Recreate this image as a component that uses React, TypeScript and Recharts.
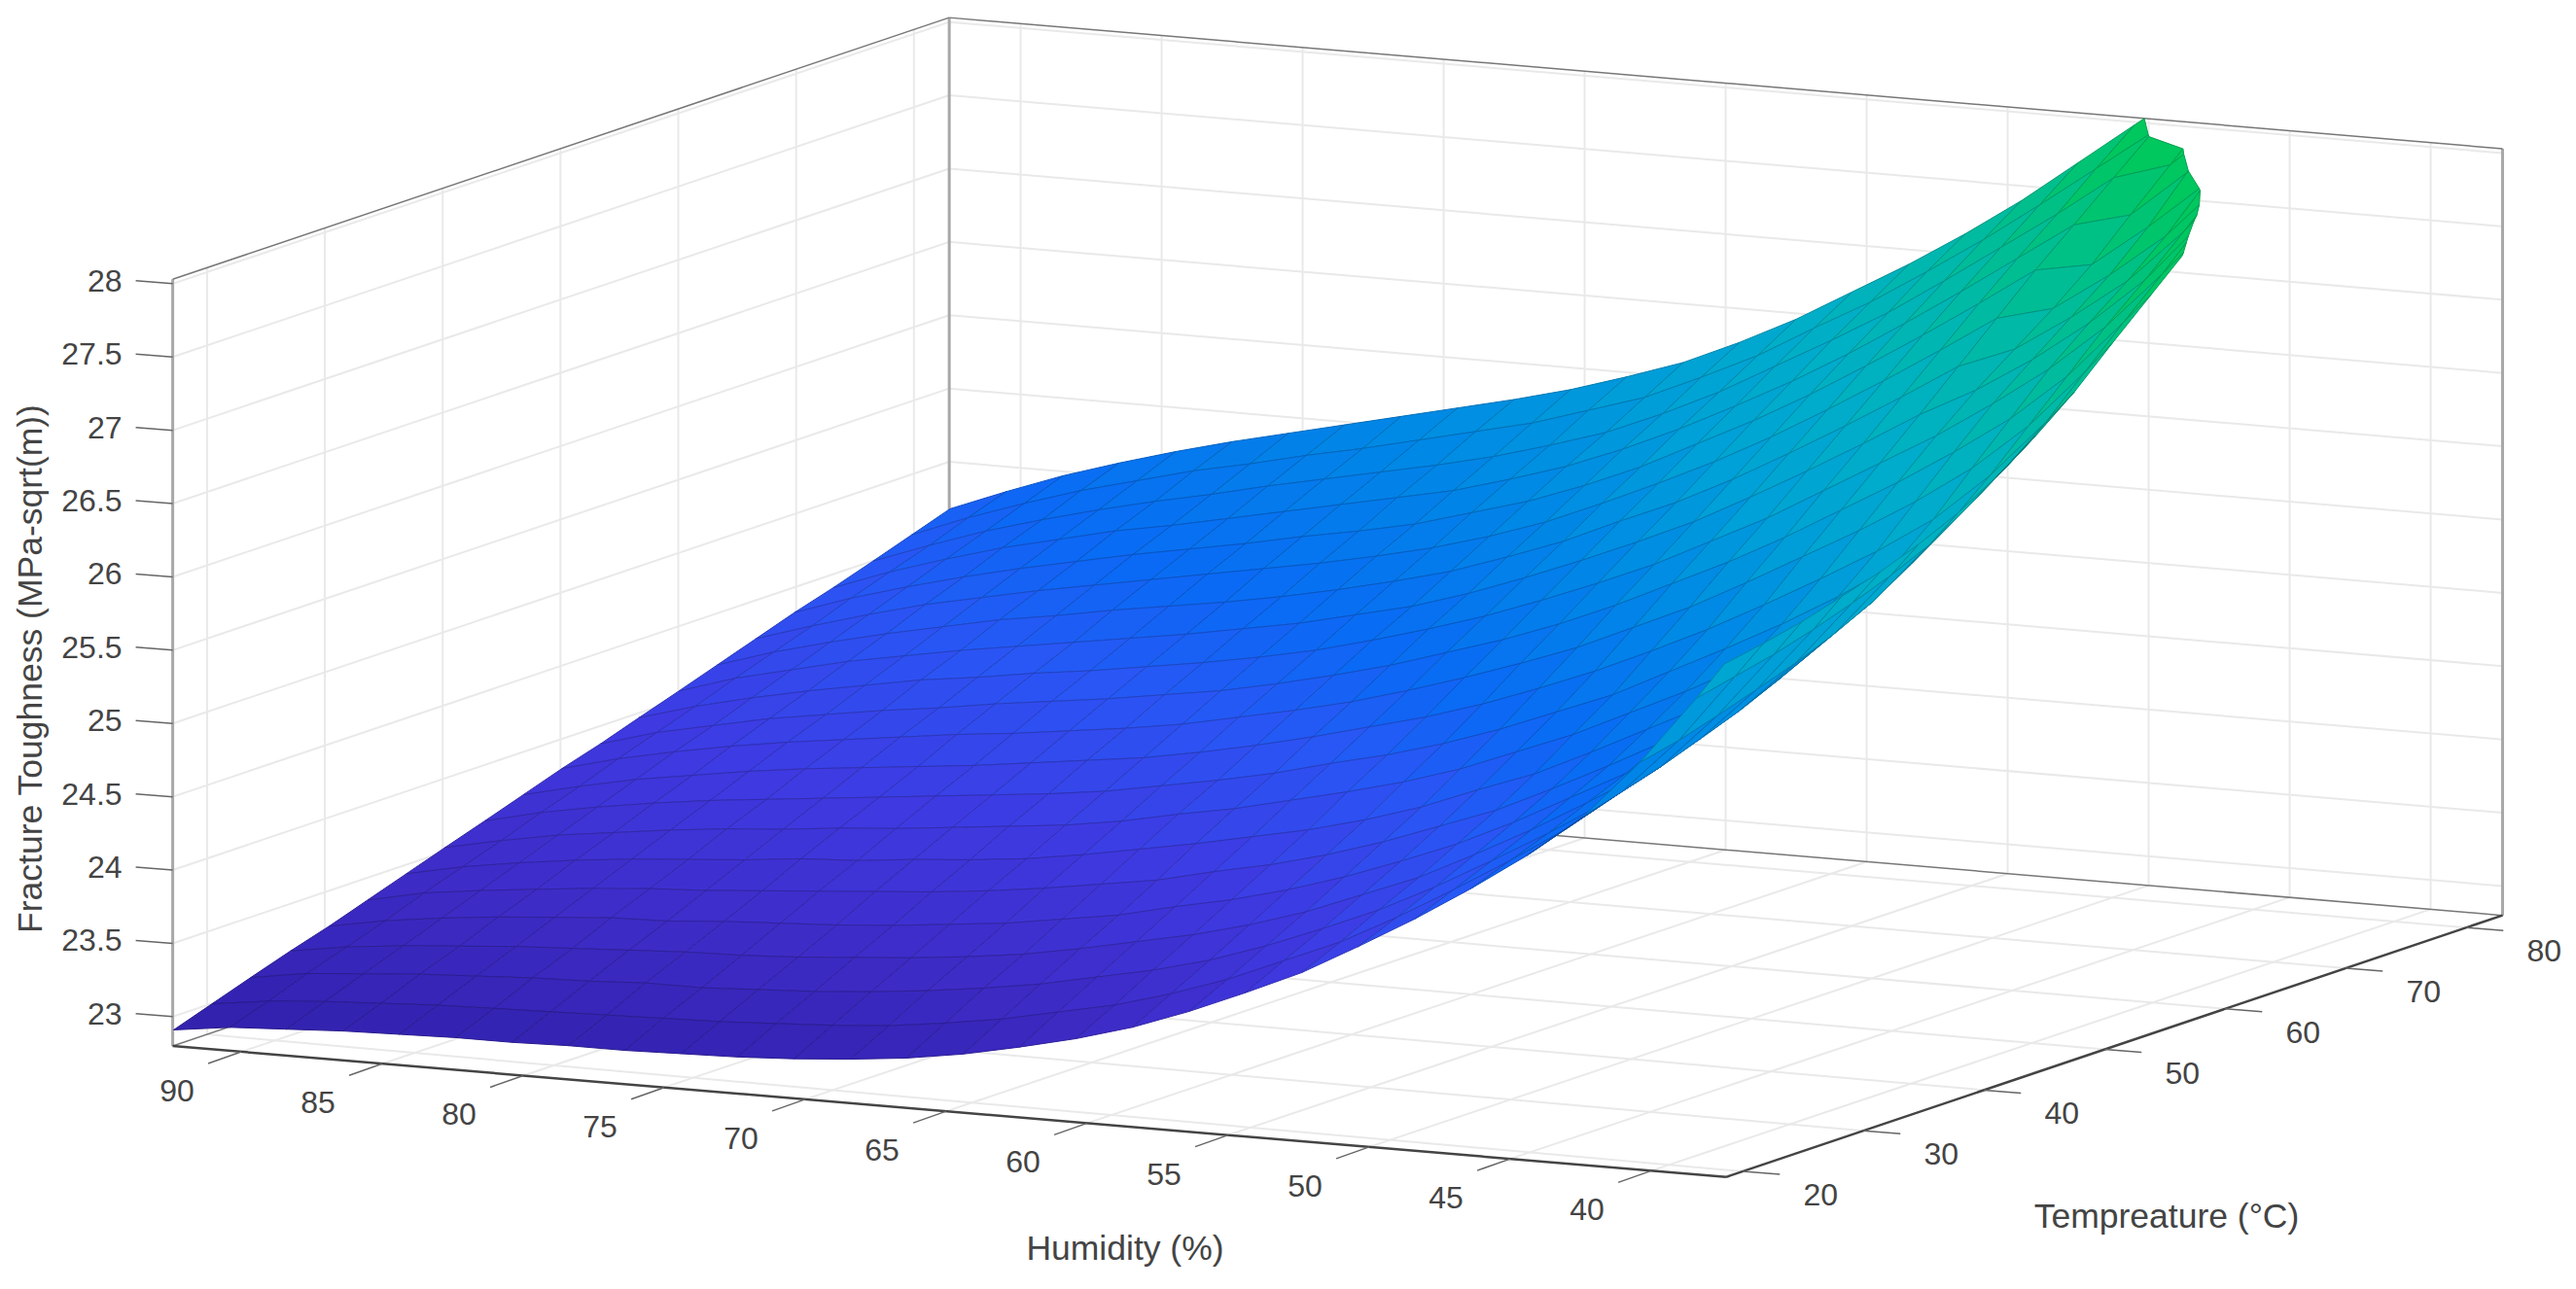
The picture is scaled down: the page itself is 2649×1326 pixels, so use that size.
import React from "react";
import {ScatterChart, Scatter, XAxis, YAxis} from "recharts";

const WIDTH = 2649;
const HEIGHT = 1326;
const FONT = "'Liberation Sans', Arial, sans-serif";

const humidityTicks = [90, 85, 80, 75, 70, 65, 60, 55, 50, 45, 40];
const temperatureTicks = [20, 30, 40, 50, 60, 70, 80];
const toughnessTicks = [23, 23.5, 24, 24.5, 25, 25.5, 26, 26.5, 27, 27.5, 28];

const humidityLimits = [37.35, 92.43];
const temperatureLimits = [18.6, 83];
const toughnessLimits = [22.8, 28.03];

const humidity = [92.4, 90.4, 88.4, 86.4, 84.4, 82.4, 80.4, 78.4, 76.4, 74.4, 72.4, 70.4, 68.4, 66.4, 64.4, 62.4, 60.4, 58.4, 56.4, 54.4, 52.4, 50.4, 48.4, 46.4, 44.4, 42.4, 40.4, 38.4, 37.4];
const temperature = [18.6, 21.8, 25.0, 28.3, 31.5, 34.7, 37.9, 41.1, 44.4, 47.6, 50.8, 54.0, 57.2, 60.5, 63.7, 66.9, 70.1, 73.3, 76.6, 79.8, 83.0];

// one row per humidity value, one entry per temperature value
const toughness = [
    [22.91, 23.00, 23.09, 23.18, 23.26, 23.35, 23.44, 23.53, 23.62, 23.71, 23.80, 23.88, 23.97, 24.06, 24.15, 24.24, 24.33, 24.41, 24.50, 24.59, 24.68],
    [22.96, 23.05, 23.15, 23.24, 23.33, 23.43, 23.52, 23.61, 23.71, 23.80, 23.90, 23.99, 24.08, 24.18, 24.27, 24.36, 24.46, 24.55, 24.64, 24.74, 24.83],
    [22.98, 23.08, 23.18, 23.28, 23.38, 23.48, 23.58, 23.68, 23.78, 23.88, 23.98, 24.07, 24.17, 24.27, 24.37, 24.47, 24.57, 24.67, 24.77, 24.87, 24.97],
    [23.00, 23.10, 23.21, 23.31, 23.42, 23.52, 23.63, 23.73, 23.84, 23.94, 24.05, 24.15, 24.25, 24.36, 24.46, 24.57, 24.67, 24.78, 24.88, 24.99, 25.09],
    [23.01, 23.12, 23.23, 23.34, 23.45, 23.56, 23.67, 23.78, 23.89, 24.00, 24.11, 24.21, 24.32, 24.43, 24.54, 24.65, 24.76, 24.87, 24.98, 25.09, 25.20],
    [23.02, 23.13, 23.25, 23.36, 23.48, 23.59, 23.70, 23.82, 23.93, 24.05, 24.16, 24.27, 24.39, 24.50, 24.62, 24.73, 24.84, 24.96, 25.07, 25.19, 25.30],
    [23.02, 23.14, 23.26, 23.38, 23.49, 23.61, 23.73, 23.85, 23.97, 24.09, 24.21, 24.32, 24.44, 24.56, 24.68, 24.80, 24.92, 25.03, 25.15, 25.27, 25.39],
    [23.03, 23.15, 23.28, 23.40, 23.52, 23.64, 23.77, 23.89, 24.01, 24.13, 24.26, 24.38, 24.50, 24.62, 24.75, 24.87, 24.99, 25.11, 25.24, 25.36, 25.48],
    [23.03, 23.16, 23.28, 23.41, 23.54, 23.67, 23.79, 23.92, 24.05, 24.17, 24.30, 24.43, 24.55, 24.68, 24.81, 24.94, 25.06, 25.19, 25.32, 25.44, 25.57],
    [23.04, 23.17, 23.30, 23.43, 23.56, 23.70, 23.83, 23.96, 24.09, 24.22, 24.35, 24.48, 24.61, 24.74, 24.87, 25.01, 25.14, 25.27, 25.40, 25.53, 25.66],
    [23.05, 23.19, 23.32, 23.46, 23.59, 23.73, 23.86, 24.00, 24.13, 24.27, 24.40, 24.54, 24.67, 24.81, 24.94, 25.08, 25.21, 25.35, 25.48, 25.62, 25.75],
    [23.07, 23.21, 23.35, 23.49, 23.63, 23.77, 23.90, 24.04, 24.18, 24.32, 24.46, 24.60, 24.74, 24.88, 25.02, 25.16, 25.29, 25.43, 25.57, 25.71, 25.85],
    [23.10, 23.24, 23.39, 23.53, 23.67, 23.82, 23.96, 24.10, 24.25, 24.39, 24.54, 24.68, 24.82, 24.97, 25.11, 25.25, 25.40, 25.54, 25.68, 25.83, 25.97],
    [23.14, 23.29, 23.44, 23.58, 23.73, 23.88, 24.03, 24.18, 24.32, 24.47, 24.62, 24.77, 24.92, 25.06, 25.21, 25.36, 25.51, 25.66, 25.80, 25.95, 26.10],
    [23.20, 23.35, 23.50, 23.65, 23.79, 23.94, 24.10, 24.25, 24.40, 24.56, 24.71, 24.87, 25.03, 25.18, 25.34, 25.49, 25.65, 25.81, 25.96, 26.12, 26.27],
    [23.28, 23.43, 23.58, 23.73, 23.88, 24.03, 24.18, 24.34, 24.50, 24.66, 24.82, 24.99, 25.15, 25.32, 25.48, 25.65, 25.81, 25.98, 26.14, 26.30, 26.46],
    [23.37, 23.51, 23.66, 23.81, 23.96, 24.11, 24.26, 24.43, 24.59, 24.76, 24.94, 25.11, 25.29, 25.47, 25.65, 25.82, 26.00, 26.17, 26.35, 26.52, 26.68],
    [23.48, 23.62, 23.76, 23.91, 24.06, 24.21, 24.36, 24.53, 24.70, 24.88, 25.07, 25.25, 25.44, 25.63, 25.81, 26.00, 26.19, 26.37, 26.56, 26.73, 26.90],
    [23.62, 23.75, 23.89, 24.03, 24.18, 24.33, 24.48, 24.65, 24.83, 25.02, 25.21, 25.41, 25.60, 25.80, 26.00, 26.20, 26.40, 26.59, 26.78, 26.97, 27.14],
    [23.78, 23.91, 24.04, 24.18, 24.32, 24.47, 24.63, 24.80, 24.98, 25.17, 25.38, 25.59, 25.79, 26.00, 26.21, 26.42, 26.63, 26.83, 27.03, 27.22, 27.40],
    [23.95, 24.07, 24.20, 24.33, 24.47, 24.61, 24.77, 24.95, 25.13, 25.34, 25.55, 25.77, 25.98, 26.21, 26.43, 26.65, 26.87, 27.08, 27.29, 27.49, 27.69],
    [24.16, 24.27, 24.39, 24.52, 24.65, 24.79, 24.95, 25.13, 25.32, 25.52, 25.75, 25.97, 26.20, 26.43, 26.66, 26.89, 27.12, 27.34, 27.55, 27.77, 27.98],
    [24.38, 24.49, 24.60, 24.72, 24.85, 24.98, 25.14, 25.31, 25.51, 25.72, 25.96, 26.19, 26.42, 26.66, 26.90, 27.14, 27.38, 27.60, 27.83, 28.05, 28.27],
    [24.62, 24.72, 24.82, 24.94, 25.05, 25.18, 25.33, 25.51, 25.71, 25.93, 26.17, 26.41, 26.64, 26.86, 27.05, 27.24, 27.45, 27.70, 27.95, 28.19, 28.42],
    [24.88, 24.97, 25.06, 25.17, 25.28, 25.40, 25.55, 25.73, 25.93, 26.15, 26.40, 26.65, 26.89, 27.10, 27.30, 27.50, 27.74, 28.02, 28.28, 28.52, 28.75],
    [25.18, 25.26, 25.34, 25.44, 25.54, 25.66, 25.80, 25.98, 26.18, 26.40, 26.66, 26.91, 27.16, 27.38, 27.58, 27.80, 28.06, 28.32, 28.58, 28.82, 29.05],
    [25.58, 25.64, 25.72, 25.81, 25.90, 26.01, 26.14, 26.31, 26.51, 26.73, 26.98, 27.23, 27.48, 27.71, 27.95, 28.19, 28.45, 28.70, 28.95, 29.17, 29.38],
    [26.05, 26.11, 26.17, 26.25, 26.34, 26.44, 26.56, 26.73, 26.92, 27.13, 27.38, 27.63, 27.87, 28.13, 28.39, 28.65, 28.90, 29.13, 29.37, 29.57, 29.75],
    [26.30, 26.35, 26.41, 26.49, 26.57, 26.67, 26.79, 26.95, 27.14, 27.35, 27.60, 27.84, 28.08, 28.34, 28.60, 28.86, 29.11, 29.34, 29.57, 29.77, 29.95],
];

const colorStops: [number, number[]][] = [
    [22.8, [46, 30, 165]],
    [23.5, [62, 44, 200]],
    [24.0, [62, 58, 226]],
    [24.5, [42, 85, 245]],
    [24.9, [10, 106, 245]],
    [25.5, [0, 136, 230]],
    [26.0, [0, 160, 216]],
    [26.5, [0, 174, 200]],
    [27.0, [0, 184, 172]],
    [27.5, [0, 192, 136]],
    [28.0, [0, 200, 90]],
];

// orthographic view of the box: screen pixels per unit of each axis
const project = (h: number, t: number, z: number) => {
    const a = humidityLimits[1] - h;
    const b = t - temperatureLimits[0];
    const c = z - toughnessLimits[0];
    return {
        x: 177.6 + 29.0 * a + 12.4 * b,
        y: 1076 + 2.448 * a - 4.18 * b - 150.8 * c,
    };
};

const depth = (h: number, t: number, z: number) => {
    return 0.4262 * (humidityLimits[1] - h) - (t - temperatureLimits[0]) + 0.0345 * z;
};

const colorFor = (z: number, shade: number, darken = 1) => {
    let rgb = colorStops[colorStops.length - 1][1];
    for (let i = 0; i < colorStops.length - 1; i++) {
        const [z0, c0] = colorStops[i];
        const [z1, c1] = colorStops[i + 1];
        if (z <= z1) {
            const f = Math.max(0, (z - z0) / (z1 - z0));
            rgb = c0.map((v, k) => v + (c1[k] - v) * f);
            break;
        }
    }
    return `rgb(${rgb.map(v => Math.round(v * shade * darken)).join(",")})`;
};

// cut the part of a cell that is above the top of the z axis
const clipTop = (pts: number[][]) => {
    const top = toughnessLimits[1];
    const out: number[][] = [];
    pts.forEach((p, i) => {
        const q = pts[(i + 1) % pts.length];
        if (p[2] <= top) out.push(p);
        if ((p[2] <= top) !== (q[2] <= top)) {
            const f = (top - p[2]) / (q[2] - p[2]);
            out.push([p[0] + (q[0] - p[0]) * f, p[1] + (q[1] - p[1]) * f, top]);
        }
    });
    return out;
};

const buildCells = () => {
    const cells: any[] = [];
    for (let i = 0; i < humidity.length - 1; i++) {
        for (let j = 0; j < temperature.length - 1; j++) {
            const corners = [
                [humidity[i], temperature[j], toughness[i][j]],
                [humidity[i + 1], temperature[j], toughness[i + 1][j]],
                [humidity[i + 1], temperature[j + 1], toughness[i + 1][j + 1]],
                [humidity[i], temperature[j + 1], toughness[i][j + 1]],
            ];
            const clipped = clipTop(corners);
            if (clipped.length < 3) continue;
            const screen = clipped.map(c => project(c[0], c[1], c[2]));
            const full = corners.map(c => project(c[0], c[1], c[2]));
            const area = Math.abs((full[2].x - full[0].x) * (full[3].y - full[1].y) - (full[3].x - full[1].x) * (full[2].y - full[0].y)) / 2;
            const nominal = (humidity[i] - humidity[i + 1]) * (temperature[j + 1] - temperature[j]) * 43;
            const shade = 0.8 + 0.2 * Math.min(1, area / nominal);
            const zMean = clipped.reduce((s, c) => s + c[2], 0) / clipped.length;
            cells.push({
                sx: screen[0].x,
                sy: screen[0].y,
                offsets: screen.map(p => [p.x - screen[0].x, p.y - screen[0].y]),
                fill: colorFor(zMean, shade),
                stroke: colorFor(zMean, shade, 0.8),
                order: depth(humidity[i] - 1, temperature[j] + 1.6, zMean),
            });
        }
    }
    return cells.sort((p, q) => p.order - q.order);
};

const segment = (p: {x: number, y: number}, q: {x: number, y: number}) => ({
    sx: p.x, sy: p.y, dx: q.x - p.x, dy: q.y - p.y,
});

const [hMin, hMax] = humidityLimits;
const [tMin, tMax] = temperatureLimits;
const [zMin, zMax] = toughnessLimits;

// the far walls of the reference sit a little off the front ticks
const wallTemp = (t: number) => t + (tMax - t) * 0.023;
const wallHumidity = (h: number) => h - 0.1;

const gridSegments = [
    ...humidityTicks.flatMap(h => [
        segment(project(h, tMin, zMin), project(wallHumidity(h), tMax, zMin)),
        segment(project(wallHumidity(h), tMax, zMin), project(wallHumidity(h), tMax, zMax)),
    ]),
    ...temperatureTicks.flatMap(t => [
        segment(project(hMin, t, zMin), project(hMax, wallTemp(t), zMin)),
        segment(project(hMax, wallTemp(t), zMin), project(hMax, wallTemp(t), zMax)),
    ]),
    ...toughnessTicks.flatMap(z => [
        segment(project(hMax, tMin, z), project(hMax, tMax, z)),
        segment(project(hMax, tMax, z), project(hMin, tMax, z)),
    ]),
];

const wallSegments = [
    segment(project(hMax, tMin, zMin), project(hMax, tMin, zMax)),
    segment(project(hMax, tMax, zMin), project(hMax, tMax, zMax)),
    segment(project(hMin, tMax, zMin), project(hMin, tMax, zMax)),
];

const edgeSegments = [
    segment(project(hMax, tMin, zMax), project(hMax, tMax, zMax)),
    segment(project(hMax, tMax, zMax), project(hMin, tMax, zMax)),
    segment(project(hMax, tMax, zMin), project(hMin, tMax, zMin)),
    segment(project(hMax, tMin, zMin), project(hMax, tMax, zMin)),
];

const axisSegments = [
    segment(project(hMax, tMin, zMin), project(hMin, tMin, zMin)),
    segment(project(hMin, tMin, zMin), project(hMin, tMax, zMin)),
];

const tickSegments = [
    ...humidityTicks.map(h => {
        const p = project(h, tMin, zMin);
        return segment(p, {x: p.x - 34, y: p.y + 12});
    }),
    ...temperatureTicks.map(t => {
        const p = project(hMin, t, zMin);
        return segment(p, {x: p.x + 38, y: p.y + 3});
    }),
    ...toughnessTicks.map(z => {
        const p = project(hMax, tMin, z);
        return segment(p, {x: p.x - 38, y: p.y - 3});
    }),
];

const tickLabels = [
    ...humidityTicks.map(h => {
        const p = project(h, tMin, zMin);
        return {sx: p.x - 66, sy: p.y + 40, text: `${h}`, anchor: "middle"};
    }),
    ...temperatureTicks.map(t => {
        const p = project(hMin, t, zMin);
        return {sx: p.x + 80, sy: p.y + 24, text: `${t}`, anchor: "middle"};
    }),
    ...toughnessTicks.map(z => {
        const p = project(hMax, tMin, z);
        return {sx: p.x - 52, sy: p.y - 3, text: `${z}`, anchor: "end"};
    }),
];

const axisTitles = [
    {sx: 1157, sy: 1284, text: "Humidity (%)", rotate: 0},
    {sx: 2228, sy: 1251, text: "Tempreature (°C)", rotate: 0},
    {sx: 31, sy: 688, text: "Fracture Toughness (MPa-sqrt(m))", rotate: -90},
];

const Cell3D = (p: any) => (
    <polygon
        points={p.payload.offsets.map((o: number[]) => `${p.cx + o[0]},${p.cy + o[1]}`).join(" ")}
        fill={p.payload.fill}
        stroke={p.payload.stroke}
        strokeWidth={1}
        strokeLinejoin="round"
    />
);

const makeLine = (stroke: string, width: number) => (p: any) => (
    <line x1={p.cx} y1={p.cy} x2={p.cx + p.payload.dx} y2={p.cy + p.payload.dy} stroke={stroke} strokeWidth={width}/>
);

const TickText = (p: any) => (
    <text x={p.cx} y={p.cy} textAnchor={p.payload.anchor} dominantBaseline="central" fontFamily={FONT} fontSize={32} fill="#444">
        {p.payload.text}
    </text>
);

const TitleText = (p: any) => (
    <text
        x={p.cx}
        y={p.cy}
        textAnchor="middle"
        dominantBaseline="central"
        fontFamily={FONT}
        fontSize={35.5}
        fill="#444"
        transform={p.payload.rotate ? `rotate(${p.payload.rotate} ${p.cx} ${p.cy})` : undefined}
    >
        {p.payload.text}
    </text>
);

const cells = buildCells();

export default function App() {
    return (
        <div style={{position: "absolute", left: 0, top: 0, width: WIDTH, height: HEIGHT, background: "#fff"}}>
            <ScatterChart width={WIDTH} height={HEIGHT} margin={{top: 0, right: 0, bottom: 0, left: 0}}>
                <XAxis type="number" dataKey="sx" domain={[0, WIDTH]} hide/>
                <YAxis type="number" dataKey="sy" domain={[0, HEIGHT]} reversed hide/>
                <Scatter data={gridSegments} shape={makeLine("#e9e9e9", 2)} isAnimationActive={false}/>
                <Scatter data={wallSegments} shape={makeLine("#a8a8a8", 3)} isAnimationActive={false}/>
                <Scatter data={edgeSegments} shape={makeLine("#777", 1.5)} isAnimationActive={false}/>
                <Scatter data={axisSegments} shape={makeLine("#444", 2.5)} isAnimationActive={false}/>
                <Scatter data={tickSegments} shape={makeLine("#666", 1.5)} isAnimationActive={false}/>
                <Scatter data={cells} shape={Cell3D} isAnimationActive={false}/>
                <Scatter data={tickLabels} shape={TickText} isAnimationActive={false}/>
                <Scatter data={axisTitles} shape={TitleText} isAnimationActive={false}/>
            </ScatterChart>
        </div>
    );
}
